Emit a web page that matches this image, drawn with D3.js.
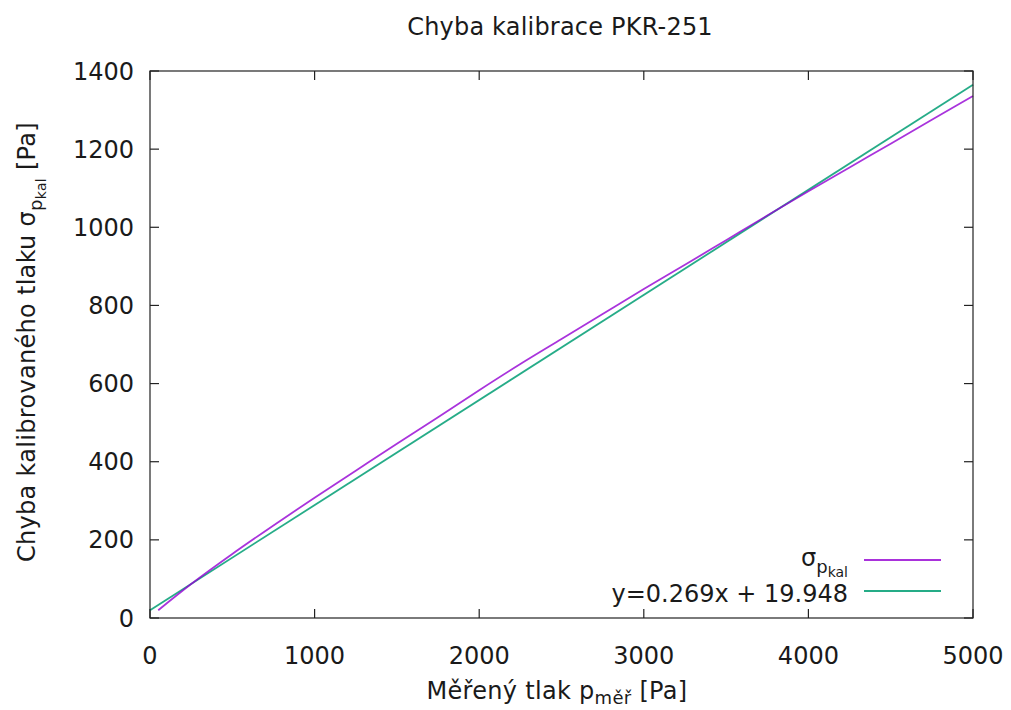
<!DOCTYPE html>
<html><head><meta charset="utf-8">
<script src="https://cdn.jsdelivr.net/npm/d3@7/dist/d3.min.js"></script>
<style>body{margin:0;background:#fff}svg{display:block}text{font-family:"DejaVu Sans",sans-serif;fill:#1a1a1a}</style>
</head><body><svg id="c" width="1011" height="710"></svg>
<script>
const xTicks=[0,1000,2000,3000,4000,5000];
const yTicks=[0,200,400,600,800,1000,1200,1400];
const sigmaX=[50,250,500,750,1000,1250,1500,1750,2000,2250,2500,2750,3000,3250,3500,3750,4000,4250,4500,4750,5000];
const sigmaY=[20,87,164,237,308,377,446,514,583,650,714,778,842,904,967,1030,1092,1153,1214,1275,1336];
const fitSlope=0.269, fitIntercept=19.948;
const fitX=[0,5000];

const svg=d3.select("#c");
const L=150,R=973,T=71,B=618;
const x=d3.scaleLinear().domain([0,5000]).range([L,R]);
const y=d3.scaleLinear().domain([0,1400]).range([B,T]);
const fs=24, fsSub=18, fsSub2=14;

// ticks inward
const tl=9;
const g=svg.append("g").attr("stroke","#222").attr("stroke-width",1.2);
xTicks.forEach(v=>{
  g.append("line").attr("x1",x(v)).attr("x2",x(v)).attr("y1",B).attr("y2",B-tl);
  g.append("line").attr("x1",x(v)).attr("x2",x(v)).attr("y1",T).attr("y2",T+tl);
});
yTicks.forEach(v=>{
  g.append("line").attr("x1",L).attr("x2",L+tl).attr("y1",y(v)).attr("y2",y(v));
  g.append("line").attr("x1",R).attr("x2",R-tl).attr("y1",y(v)).attr("y2",y(v));
});
xTicks.forEach(v=>svg.append("text").attr("x",x(v)).attr("y",664).attr("text-anchor","middle").attr("font-size",fs).text(v));
yTicks.forEach(v=>svg.append("text").attr("x",134).attr("y",y(v)+8.5).attr("text-anchor","end").attr("font-size",fs).text(v));

// curves
const line=d3.line().x(d=>x(d[0])).y(d=>y(d[1])).curve(d3.curveMonotoneX);
svg.append("path").datum(fitX.map(v=>[v,fitSlope*v+fitIntercept])).attr("d",line)
  .attr("fill","none").attr("stroke","#009e73").attr("stroke-width",1.8).attr("opacity",0.85);
svg.append("path").datum(sigmaX.map((v,i)=>[v,sigmaY[i]])).attr("d",line)
  .attr("fill","none").attr("stroke","#9400d3").attr("stroke-width",1.8).attr("opacity",0.8);

// border
svg.append("rect").attr("x",L).attr("y",T).attr("width",R-L).attr("height",B-T)
  .attr("fill","none").attr("stroke","#222").attr("stroke-width",1.2);

// legend
const lg=svg.append("g");
const t1=lg.append("text").attr("x",848).attr("y",566).attr("text-anchor","end").attr("font-size",fs);
t1.append("tspan").text("σ");
t1.append("tspan").attr("dy",7).attr("font-size",fsSub).text("p");
t1.append("tspan").attr("dy",4).attr("font-size",fsSub2).text("kal");
lg.append("line").attr("x1",864).attr("x2",941).attr("y1",560).attr("y2",560).attr("stroke","#9400d3").attr("stroke-width",1.8).attr("opacity",0.8);
lg.append("text").attr("x",848).attr("y",602).attr("text-anchor","end").attr("font-size",fs).text("y=0.269x + 19.948");
lg.append("line").attr("x1",864).attr("x2",941).attr("y1",591).attr("y2",591).attr("stroke","#009e73").attr("stroke-width",1.8).attr("opacity",0.85);

// title
svg.append("text").attr("x",560).attr("y",35).attr("text-anchor","middle").attr("font-size",fs).attr("letter-spacing",0.2).text("Chyba kalibrace PKR-251");

// x label
const xl=svg.append("text").attr("x",557).attr("y",699).attr("text-anchor","middle").attr("font-size",fs).attr("letter-spacing",0.3);
xl.append("tspan").text("Měřený tlak p");
xl.append("tspan").attr("dy",5).attr("font-size",fsSub).text("měř");
xl.append("tspan").attr("dy",-5).text(" [Pa]");

// y label
const yl=svg.append("text").attr("transform","translate(35,342) rotate(-90)").attr("text-anchor","middle").attr("font-size",fs).attr("letter-spacing",0.3);
yl.append("tspan").text("Chyba kalibrovaného tlaku  σ");
yl.append("tspan").attr("dy",7).attr("font-size",fsSub).text("p");
yl.append("tspan").attr("dy",4).attr("font-size",fsSub2).text("kal");
yl.append("tspan").attr("dy",-11).text(" [Pa]");
</script></body></html>
